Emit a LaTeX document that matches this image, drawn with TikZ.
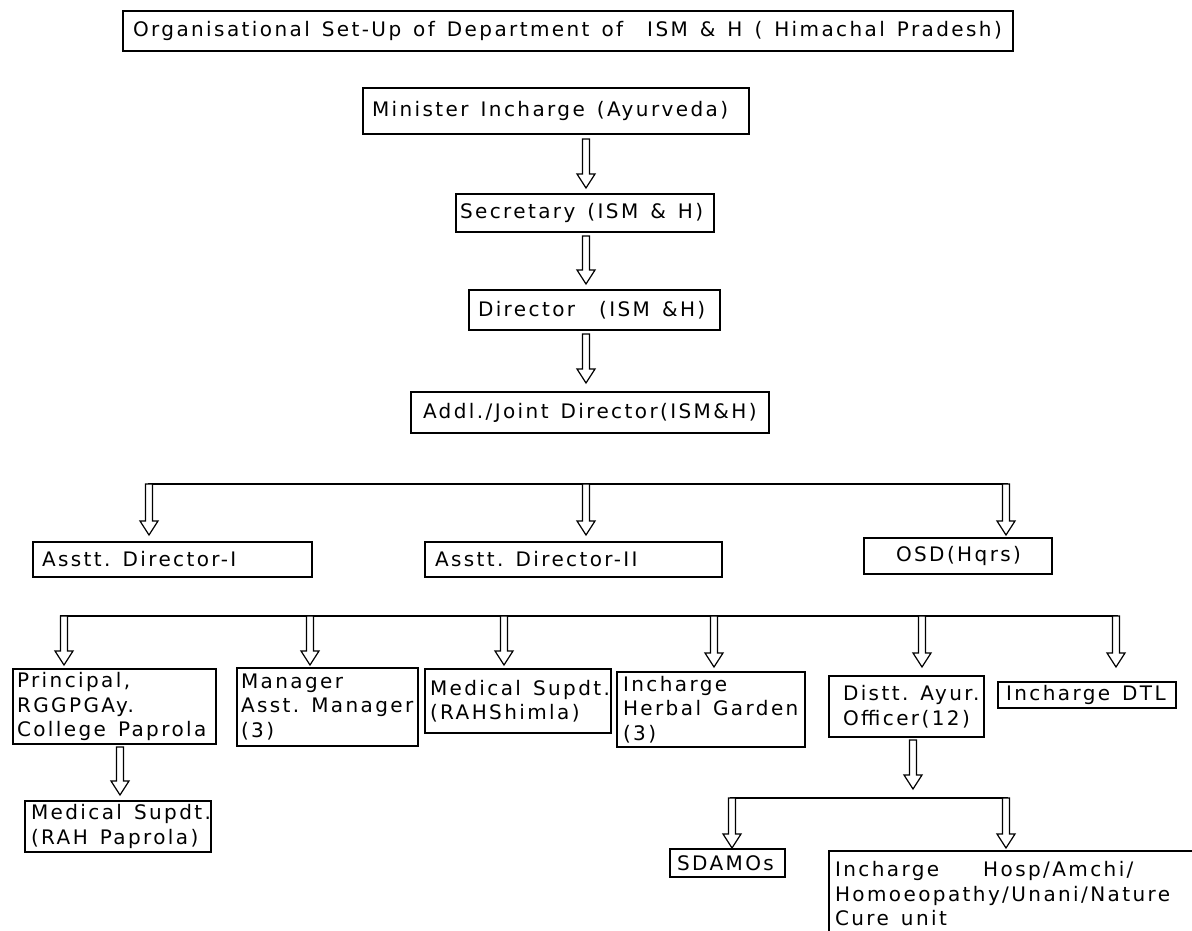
\documentclass[tikz,border=0pt]{standalone}
\usepackage{fontspec}
\setmainfont{DejaVu Sans}[LetterSpace=12.0]
\usetikzlibrary{calc}
\newcommand\wsp{\kern0.6em}
\tikzset{
  box/.style={draw, line width=1.3pt, inner sep=0pt, align=left,
    font=\fontsize{20}{24.5}\selectfont},
  arr/.style={draw, line width=1.2pt, fill=white, line join=miter},
  bus/.style={draw, line width=2pt}
}
\newcommand\mkbox[7]{%
  \pgfmathsetmacro\mybw{#4-#2}\pgfmathsetmacro\mybh{#5-#3}%
  \pgfmathsetmacro\mytw{#4-#2-2*#6}%
  \pgfmathsetmacro\mycx{(#2+#4)/2}\pgfmathsetmacro\mycy{(#3+#5)/2}%
  \node[box, minimum width=\mybw pt, minimum height=\mybh pt, text width=\mytw pt] (#1) at (\mycx,\mycy) {#7};}
\newcommand\harrow[2]{%
  \draw[arr] let \p1=(#1), \p2=(#2) in
    (\x1-3.5pt,\y1) -- (\x1-3.5pt,\y2+14pt) -- (\x1-9pt,\y2+14pt) -- (\x1,\y2)
    -- (\x1+9pt,\y2+14pt) -- (\x1+3.5pt,\y2+14pt) -- (\x1+3.5pt,\y1) -- cycle;}
\begin{document}
\begin{tikzpicture}[x=1pt,y=-1pt]
\useasboundingbox[fill=white] (0,0) rectangle (1192,931);
\clip (0,0) rectangle (1192,931);

% boxes
\mkbox{title}{123}{11}{1013}{51}{10}{Organisational\wsp Set-Up\wsp of\wsp Department\wsp of\wsp\wsp ISM\wsp\&\wsp H\wsp (\wsp Himachal\wsp Pradesh)}
\mkbox{min}{363}{88}{749}{134}{9}{Minister\wsp Incharge\wsp (Ayurveda)}
\mkbox{sec}{456}{194}{714}{232}{4}{Secretary\wsp (ISM\wsp \&\wsp H)}
\mkbox{dir}{469}{290}{720}{330}{9}{Director\wsp\wsp (ISM\wsp \&H)}
\mkbox{addl}{411}{392}{769}{433}{12}{Addl./Joint\wsp Director(ISM\&H)}
\mkbox{ad1}{33}{542}{312}{577}{9}{Asstt.\wsp Director-I}
\mkbox{ad2}{425}{542}{722}{577}{10}{Asstt.\wsp Director-II}
\mkbox{osd}{864}{538}{1052}{574}{32}{OSD(Hqrs)}
\mkbox{pri}{13}{669}{216}{744}{4}{Principal,\\RGGPGAy.\\College\wsp Paprola}
\mkbox{mgr}{237}{668}{418}{746}{4}{Manager\\Asst.\wsp Manager\\(3)}
\mkbox{msh}{425}{669}{611}{733}{5}{Medical\wsp Supdt.\\(RAHShimla)}
\mkbox{hg}{617}{672}{805}{747}{6}{Incharge\\Herbal\wsp Garden\\(3)}
\mkbox{dao}{829}{676}{984}{737}{14}{Distt.\wsp Ayur.\\Officer(12)}
\mkbox{dtl}{998}{682}{1176}{708}{8}{Incharge\wsp DTL}
\mkbox{mrp}{25}{801}{211}{852}{6}{Medical\wsp Supdt.\\(RAH\wsp Paprola)}
\mkbox{sda}{670}{849}{785}{877}{7}{SDAMOs}
\mkbox{hosp}{829}{851}{1240}{937}{6}{Incharge\kern44pt Hosp/Amchi/\\Homoeopathy/Unani/Nature\\Cure\wsp unit}

% arrow end points
\coordinate (a1t) at (586,139); \coordinate (a1h) at (586,188);
\coordinate (a2t) at (586,236); \coordinate (a2h) at (586,284);
\coordinate (a3t) at (586,334); \coordinate (a3h) at (586,383);
\coordinate (a4t) at (120,747); \coordinate (a4h) at (120,795);
\coordinate (a5t) at (913,740); \coordinate (a5h) at (913,789);

% bus 1
\coordinate (b1l) at (148,484); \coordinate (b1r) at (1008,484);
\coordinate (b1a) at (149,484); \coordinate (b1ah) at (149,535);
\coordinate (b1b) at (586,484); \coordinate (b1bh) at (586,535);
\coordinate (b1c) at (1006,484); \coordinate (b1ch) at (1006,535);
% bus 2
\coordinate (b2l) at (60,616); \coordinate (b2r) at (1118,616);
\coordinate (b2a) at (64,616);   \coordinate (b2ah) at (64,665);
\coordinate (b2b) at (310,616);  \coordinate (b2bh) at (310,665);
\coordinate (b2c) at (504,616);  \coordinate (b2ch) at (504,665);
\coordinate (b2d) at (714,616);  \coordinate (b2dh) at (714,667);
\coordinate (b2e) at (922,616);  \coordinate (b2eh) at (922,667);
\coordinate (b2f) at (1116,616); \coordinate (b2fh) at (1116,667);
% bus 3
\coordinate (b3l) at (730,798); \coordinate (b3r) at (1008,798);
\coordinate (b3a) at (732,798);  \coordinate (b3ah) at (732,848);
\coordinate (b3b) at (1006,798); \coordinate (b3bh) at (1006,848);

\draw[bus] (b1l) -- (b1r);
\draw[bus] (b2l) -- (b2r);
\draw[bus] (b3l) -- (b3r);

\harrow{a1t}{a1h}
\harrow{a2t}{a2h}
\harrow{a3t}{a3h}
\harrow{a4t}{a4h}
\harrow{a5t}{a5h}
\harrow{b1a}{b1ah}
\harrow{b1b}{b1bh}
\harrow{b1c}{b1ch}
\harrow{b2a}{b2ah}
\harrow{b2b}{b2bh}
\harrow{b2c}{b2ch}
\harrow{b2d}{b2dh}
\harrow{b2e}{b2eh}
\harrow{b2f}{b2fh}
\harrow{b3a}{b3ah}
\harrow{b3b}{b3bh}
\end{tikzpicture}
\end{document}
